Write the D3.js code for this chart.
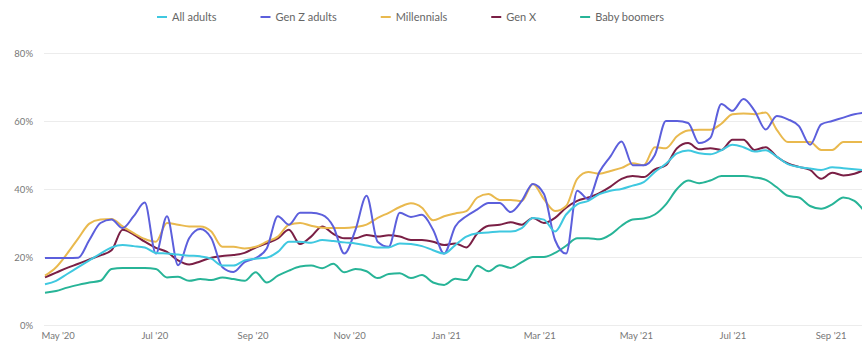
<!DOCTYPE html>
<meta charset="utf-8">
<script src="https://cdn.jsdelivr.net/npm/d3@7"></script>
<style>
  body { margin: 0; background: #fff; }
  text { font-family: Lato, "Open Sans", sans-serif; }
</style>
<body>
<div id="chart"></div>
<script>

// weekly readings, first one on 23 Apr 2020
var startDate = new Date(2020, 3, 23)
var nWeeks = 75

var seriesNames = ["All adults", "Gen Z adults", "Millennials", "Gen X", "Baby boomers"]
var seriesColors = ["#3fc8e0", "#5c5fdc", "#e9b94e", "#7a1f45", "#27b497"]

var allAdults = [12, 13, 15, 17, 19, 21, 22.8, 23.5, 23.2, 22.8,
  21.2, 21, 20.7, 20.4, 20.2, 19.5, 17.5, 17.5, 19, 19.5,
  19.8, 21.5, 24.5, 24.5, 24.2, 25, 24.7, 24.3, 24, 23.4,
  22.8, 22.8, 24, 23.8, 23.2, 22, 21, 23.5, 26, 27,
  27.2, 27.5, 27.5, 28.5, 31.5, 31, 27.5, 32.5, 35.5, 36.5,
  38.5, 39.5, 40, 41, 42, 45, 47.4, 50.5, 51.3, 50.5,
  50.2, 51.4, 53, 52.3, 51, 51.4, 49.5, 47.3, 46.5, 46,
  45.6, 46.4, 46.1, 45.8, 45.5]

var genZ = [19.7, 19.7, 19.7, 19.8, 25, 30, 31, 28.5, 32, 36,
  21, 32, 17.6, 25.5, 28.2, 25.5, 17, 15.6, 18.5, 19.7,
  22.5, 32, 29.5, 33, 33, 32.4, 29, 21, 28, 38,
  24.5, 23, 33, 31.8, 32.4, 28, 21, 29, 32, 34,
  35.9, 35.9, 33.2, 36.5, 41.5, 38.5, 25, 21, 39.5, 37,
  45, 49.6, 54, 47, 47, 50, 60, 60, 59.4, 53.5,
  55, 65, 63, 66.5, 63, 57.5, 61.5, 60.5, 58.5, 53,
  59, 60, 61, 62, 62.5]

var millennials = [14.5, 17, 21, 25.5, 29.8, 31, 31.2, 29, 27, 25.3,
  24.5, 30, 29.5, 29, 29, 27.5, 23, 23, 22.5, 23,
  24.5, 26, 29.5, 30, 29.2, 28.6, 28.5, 28.5, 28.8, 29.5,
  31.5, 33, 34.7, 35.8, 34.5, 30.8, 32, 32.8, 33.5, 37.5,
  38.5, 36.8, 36.8, 36.5, 41.5, 37, 33.5, 35, 43, 45,
  44.5, 45.3, 46.2, 47.6, 47, 52.3, 52, 55.5, 57.2, 57.4,
  57.4, 59.2, 62, 62.2, 62, 62.5, 57.4, 53.8, 53.8, 53.8,
  51.5, 51.5, 53.8, 53.8, 53.8]

var genX = [14, 15.4, 16.8, 18, 19.3, 20.5, 22, 28, 26.6, 24.5,
  22.7, 21.5, 19, 17.8, 18.7, 19.8, 20.3, 20.6, 21.2, 22.8,
  24, 25.5, 28, 23.8, 26, 29, 26.8, 25.5, 25.5, 26.5,
  26, 26.4, 26, 25, 25, 24.5, 23.5, 24, 22.8, 27,
  29.2, 29.5, 30.2, 29.5, 31.5, 30, 31.5, 34.5, 36.5, 37.5,
  38.8, 40.7, 43, 43.8, 43.5, 45.8, 47, 52, 53.5, 51.7,
  52, 51.5, 54.5, 54.5, 51.5, 52.3, 49.5, 47.5, 46.5, 45.6,
  43, 44.8, 44, 44.5, 45.8]

var babyBoomers = [9.5, 10, 11, 11.8, 12.5, 13, 16.5, 16.8, 16.8, 16.8,
  16.5, 14, 14.2, 13, 13.5, 13.2, 14, 13.5, 13, 15.5,
  12.5, 14.5, 16, 17.2, 17.5, 16.7, 18, 15.5, 16.5, 15.8,
  13.8, 15, 15.2, 13.8, 14.7, 12.5, 11.8, 13.6, 13.2, 17.4,
  15.8, 17.6, 16.8, 18.5, 20, 20, 21.2, 23.3, 25.5, 25.5,
  25.2, 26.6, 29.2, 31, 31.3, 32.5, 35.5, 40, 42.5, 41.7,
  42.5, 43.8, 43.8, 43.8, 43.4, 42.7, 40.5, 38, 37.5, 35,
  34.2, 35.5, 37.5, 36.5, 33]

var yTicks = [0, 20, 40, 60, 80]
var xTickLabels = ["May '20", "Jul '20", "Sep '20", "Nov '20", "Jan '21", "Mar '21", "May '21", "Jul '21", "Sep '21"]
var xTickDates = [new Date(2020, 4, 1), new Date(2020, 6, 1), new Date(2020, 8, 1), new Date(2020, 10, 1),
  new Date(2021, 0, 1), new Date(2021, 2, 1), new Date(2021, 4, 1), new Date(2021, 6, 1), new Date(2021, 8, 1)]

var dates = d3.range(nWeeks).map(function(i) { return d3.timeDay.offset(startDate, 7 * i) })
var allSeries = [allAdults, genZ, millennials, genX, babyBoomers]

var width = 862
var height = 343

var svg = d3.select("#chart")
            .append("svg")
            .attr("width", width)
            .attr("height", height)

var xScale = d3.scaleTime()
               .domain([dates[0], dates[dates.length - 1]])
               .range([45, 865.5])
var yScale = d3.scaleLinear()
               .domain([0, 80])
               .range([325, 53])

// gridlines + y labels
var yAxis = svg.append("g")
               .attr("transform", "translate(44,0)")
               .call(d3.axisLeft(yScale).tickValues(yTicks)
                       .tickSize(-(width - 44)).tickPadding(11)
                       .tickFormat(function(d) { return d + "%" }))
yAxis.select(".domain").remove()
yAxis.selectAll(".tick line").attr("stroke", "#ececec")
yAxis.selectAll(".tick text")
     .attr("fill", "#777")
     .style("font-size", "9.5px")

// x labels, no tick marks
var xAxis = svg.append("g")
               .attr("transform", "translate(0,325)")
               .call(d3.axisBottom(xScale).tickValues(xTickDates).tickSize(0).tickPadding(7)
                       .tickFormat(function(d, i) { return xTickLabels[i] }))
xAxis.select(".domain").remove()
xAxis.selectAll(".tick text")
     .attr("fill", "#777")
     .style("font-size", "9.5px")

svg.append("clipPath")
   .attr("id", "plot-clip")
   .append("rect")
   .attr("x", 44).attr("y", 0)
   .attr("width", width - 44).attr("height", height)

var line = d3.line()
             .x(function(d, i) { return xScale(dates[i]) })
             .y(function(d) { return yScale(d) })
             .curve(d3.curveMonotoneX)

var lines = svg.append("g").attr("clip-path", "url(#plot-clip)")
// draw boomers first so the others sit above it
for (var s = allSeries.length - 1; s >= 0; s--) {
  lines.append("path")
       .datum(allSeries[s])
       .attr("fill", "none")
       .attr("stroke", seriesColors[s])
       .attr("stroke-width", 2)
       .attr("stroke-linejoin", "round")
       .attr("d", line)
}

// legend
var legend = svg.append("g")
var lx = 157
for (var i = 0; i < seriesNames.length; i++) {
  var item = legend.append("g").attr("transform", "translate(" + lx + ",17)")
  item.append("line")
      .attr("x1", 0).attr("x2", 10)
      .attr("stroke", seriesColors[i])
      .attr("stroke-width", 2)
  var t = item.append("text")
      .attr("x", 15)
      .attr("y", 4)
      .attr("fill", "#666")
      .style("font-size", "11px")
      .text(seriesNames[i])
  lx += 15 + t.node().getComputedTextLength() + 44
}

</script>
</body>
